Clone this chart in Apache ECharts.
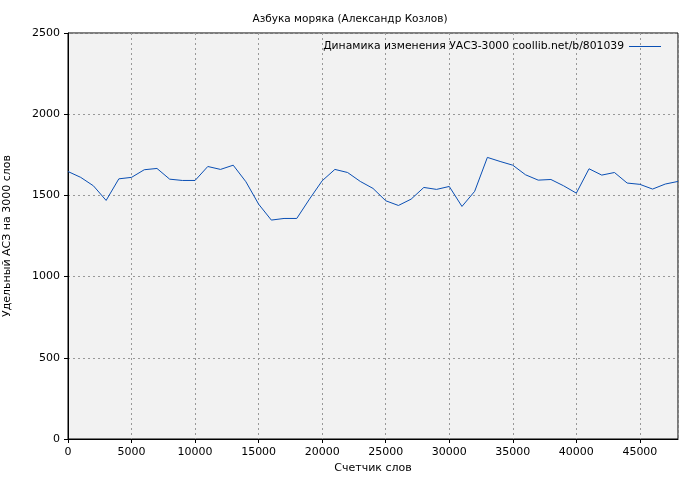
<!DOCTYPE html><html><head><meta charset="utf-8"><script src="https://cdn.jsdelivr.net/npm/echarts@6/dist/echarts.min.js"></script></head><body style="margin:0;background:#fff"><div id="c" style="width:700px;height:480px"></div><script>
const words=[0,1000,2000,3000,4000,5000,6000,7000,8000,9000,10000,11000,12000,13000,14000,15000,16000,17000,18000,19000,20000,21000,22000,23000,24000,25000,26000,27000,28000,29000,30000,31000,32000,33000,34000,35000,36000,37000,38000,39000,40000,41000,42000,43000,44000,45000,46000,47000,48000];
const values=[1647,1611,1559,1469,1602,1611,1658,1666,1600,1592,1592,1678,1660,1686,1584,1446,1348,1358,1358,1477,1590,1660,1641,1586,1543,1467,1438,1477,1549,1537,1555,1432,1525,1734,1709,1686,1627,1594,1598,1559,1514,1664,1625,1641,1576,1568,1539,1570,1586];
const seriesName='Динамика изменения УАСЗ-3000 coollib.net/b/801039';
const f='DejaVu Sans';
const ch=echarts.init(document.getElementById('c'));
ch.setOption({animation:false,
title:{text:'Азбука моряка (Александр Козлов)',left:'center',top:9,textStyle:{fontFamily:f,fontSize:10.5,fontWeight:'normal',color:'#000'}},
legend:{right:34,top:36,itemWidth:32,itemHeight:1,icon:'rect',itemGap:8,textStyle:{fontFamily:f,fontSize:10.8,color:'#000'},data:[seriesName],align:'right'},
grid:{left:68,right:22,top:33,bottom:41,containLabel:false,outerBoundsMode:'none',show:true,backgroundColor:'#f2f2f2',borderColor:'#000',borderWidth:1},
xAxis:{type:'value',min:0,max:48000,interval:5000,name:'Счетчик слов',nameLocation:'middle',nameGap:24,nameTextStyle:{fontFamily:f,fontSize:11,color:'#000'},
axisLine:{lineStyle:{color:'#000'}},axisTick:{inside:false,length:4,lineStyle:{color:'#000'}},axisLabel:{fontFamily:f,fontSize:11,color:'#000',showMaxLabel:false,formatter:v=>String(v)},splitLine:{lineStyle:{color:'#999',type:[2,3]}}},
yAxis:{type:'value',min:0,max:2500,interval:500,name:'Удельный АСЗ на 3000 слов',nameLocation:'middle',nameGap:55,nameTextStyle:{fontFamily:f,fontSize:11,color:'#000'},
axisLine:{show:true,lineStyle:{color:'#000'}},axisTick:{show:true,length:4,lineStyle:{color:'#000'}},axisLabel:{fontFamily:f,fontSize:11,color:'#000',formatter:v=>String(v)},splitLine:{lineStyle:{color:'#999',type:[2,3]}}},
series:[{name:seriesName,type:'line',data:words.map((w,i)=>[w,values[i]]),showSymbol:false,lineStyle:{color:'#0a4fb4',width:1},itemStyle:{color:'#0a4fb4'}}]});
</script></body></html>
